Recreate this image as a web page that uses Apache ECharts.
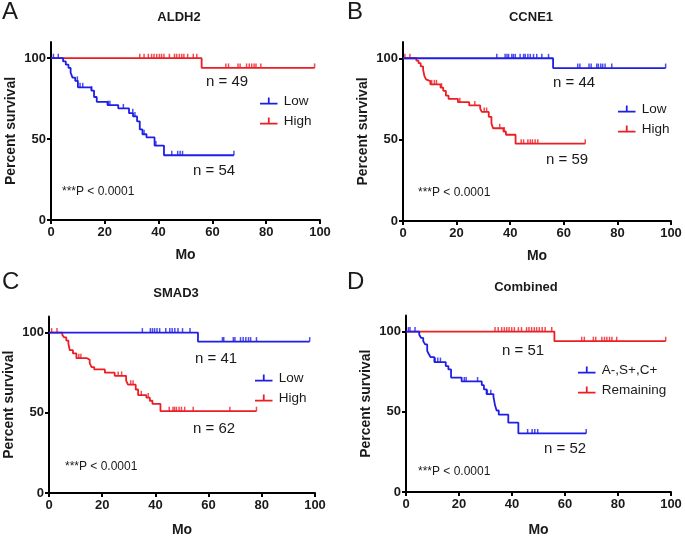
<!DOCTYPE html>
<html>
<head>
<meta charset="utf-8">
<script src="https://cdn.jsdelivr.net/npm/echarts@6/dist/echarts.min.js"></script>
<style>
html, body { margin: 0; padding: 0; background: #fff; }
#main { width: 685px; height: 538px; }
</style>
</head>
<body>
<div id="main"></div>
<script>
// axis ticks
var xTicks = [0, 20, 40, 60, 80, 100];
var yTicks = [0, 50, 100];

var panelLetters = ['A', 'B', 'C', 'D'];
var panelTitles = ['ALDH2', 'CCNE1', 'SMAD3', 'Combined'];
var blueNames = ['Low', 'Low', 'Low', 'A-,S+,C+'];
var redNames = ['High', 'High', 'High', 'Remaining'];
// n labels: upper (flat curve) and lower (falling curve)
var upperN = ['n = 49', 'n = 44', 'n = 41', 'n = 51'];
var lowerN = ['n = 54', 'n = 59', 'n = 62', 'n = 52'];
var pText = '***P < 0.0001';

// A - ALDH2
var aLowT = [0, 4.5, 5.5, 6.5, 7.3, 8, 9, 10, 15, 16, 17, 21, 25, 29, 30.5, 32, 33, 34, 35.5, 38.5, 42, 68];
var aLowS = [100, 98, 96, 94, 91, 88, 86, 82, 80, 76, 73, 71, 69, 66, 64, 61, 56, 53, 51, 46, 40, 40];
var aLowC = [0.9, 2.7, 9.8, 10.8, 11.8, 15.1, 21.3, 21.9, 26.9, 30.4, 31.2, 34.6, 39, 44.9, 47.1, 48, 48.9, 68];
var aHighT = [0, 56, 98];
var aHighS = [100, 94, 94];
var aHighC = [33, 34.6, 36.2, 37.4, 38.3, 39.3, 40.3, 41.1, 42, 44, 45.9, 46.7, 47.7, 48.6, 49.4, 50.8, 52.9, 54.2,
  65, 66, 69.5, 70.3, 72.7, 73.7, 74.6, 75.5, 76.2, 78, 98];

// B - CCNE1
var bLowT = [0, 56, 98];
var bLowS = [100, 94, 94];
var bLowC = [35, 38.1, 38.8, 39.4, 40.6, 41.2, 41.9, 43.7, 45, 45.6, 46.6, 47.5, 48.7, 49.9, 51.8, 54.3,
  65.2, 66, 69.4, 70.2, 72.3, 72.9, 73.8, 74.5, 75.4, 77.9, 98];
var bHighT = [0, 5, 5.8, 6.6, 7.5, 8, 8.6, 9.3, 10.2, 14, 15, 16, 17, 20.5, 24.7, 28.8, 29.4, 32, 33, 33.6, 37.5, 38.4, 42, 68];
var bHighS = [100, 98.5, 97, 95, 93, 89, 87, 86, 84, 82, 80, 77, 75, 73, 71, 69, 67, 64, 60, 57, 55, 53, 47.5, 47.5];
var bHighC = [0.7, 2.6, 10.7, 11.7, 12.5, 14.4, 21.2, 26.8, 30.3, 31.2, 36.1, 37.8, 44.1, 45, 46.6, 47.5, 48.3, 49.3, 50.3, 68];

// C - SMAD3
var cLowT = [0, 56, 98];
var cLowS = [100, 94.4, 94.4];
var cLowC = [35.1, 38.1, 38.9, 39.7, 40.6, 41.6, 43.9, 45.4, 46.3, 47.3, 48.5, 50.2, 53,
  65.2, 65.7, 69.3, 69.9, 72, 73, 74, 75, 75.8, 78, 98];
var cHighT = [0, 5, 5.7, 6.5, 7.3, 7.8, 9, 10.3, 14.3, 15.3, 16, 17, 21, 24.7, 29, 29.7, 32.6, 33.5, 36.6, 37.9, 38.9, 41.9, 78];
var cHighS = [100, 98.5, 97, 95, 93, 89, 87, 84, 83, 81, 78.5, 77, 75, 73, 70, 67.5, 64.5, 61, 59.5, 57.5, 55.5, 51, 51];
var cHighC = [1, 3, 11.2, 12, 26, 27.3, 30.7, 31.6, 34.7, 37.3, 45.2, 46.6, 47.2, 47.9, 48.9, 49.8, 51, 54.2, 68, 78];

// D - Combined
var dCombT = [0, 5, 5.7, 6.5, 7.2, 8, 8.6, 9.3, 10.7, 15, 16, 17, 21, 28.6, 29.4, 30.4, 33, 33.6, 34.2, 35, 38.6, 42.4, 68];
var dCombS = [100, 98, 96, 94, 92, 88, 86, 84, 81, 78.5, 76.4, 71.3, 68.9, 66.6, 64, 61, 59.4, 54, 50.8, 48.2, 43.2, 36.5, 36.5];
var dCombC = [0.9, 1.5, 3.4, 11, 12, 13, 22, 22.7, 27, 30.7, 32, 45.9, 47.6, 48.6, 49.7, 68];
var dRemT = [0, 56, 98];
var dRemS = [100, 94, 94];
var dRemC = [33.6, 34.8, 36.1, 37.1, 38, 38.9, 39.9, 40.9, 42.4, 43.6, 45.5, 46.4, 47.4, 48.4, 49.3, 50.3, 51.4, 52.5, 55,
  66.3, 67.3, 70.7, 71.6, 73.9, 74.9, 75.8, 76.8, 77.7, 79.5, 98];

var BLUE = '#1e1ee6';
var RED = '#ec1e24';
var INK = '#1a1a1a';
var FONT = 'Arial, "Liberation Sans", Helvetica, sans-serif';

var curves = [
  { red: [aHighT, aHighS, aHighC], blue: [aLowT, aLowS, aLowC] },
  { red: [bHighT, bHighS, bHighC], blue: [bLowT, bLowS, bLowC] },
  { red: [cHighT, cHighS, cHighC], blue: [cLowT, cLowS, cLowC] },
  { red: [dRemT, dRemS, dRemC], blue: [dCombT, dCombS, dCombC] }
];

// plot frames (px)
var frames = [
  { left: 51, top: 42, width: 269, height: 178 },
  { left: 403, top: 42, width: 268, height: 179 },
  { left: 49, top: 316.5, width: 266, height: 178 },
  { left: 406, top: 315.5, width: 265, height: 178.5 }
];

function stepAt(T, S, t) {
  var v = S[0];
  for (var i = 0; i < T.length; i++) {
    if (T[i] <= t) v = S[i];
  }
  return v;
}

function zip(T, S) {
  var out = [];
  for (var i = 0; i < T.length; i++) out.push([T[i], S[i]]);
  return out;
}

var grids = [], xAxes = [], yAxes = [], series = [], legends = [], texts = [];
var tickIcon = 'path://M0,6 L20,6 L20,8 L0,8 Z M9,0 L11,0 L11,8 L9,8 Z';

// legend / text positions
var legendPos = [[260, 94], [618, 102], [255, 371], [578, 363]];
var letterPos = [[2, 12], [347, 12], [2, 282], [347, 282]];
var titlePos = [[179, 17], [531, 17], [176, 293], [526, 287]];
var upperNPos = [[206, 82], [553, 83], [195, 359], [502, 351]];
var lowerNPos = [[193, 171], [546, 160], [193, 429], [544, 449]];
var pPos = [[62, 192], [418, 193], [65, 467], [418, 472]];
var moGap = [28, 28, 30, 31];

for (var i = 0; i < 4; i++) {
  var f = frames[i];
  grids.push({ left: f.left, top: f.top, width: f.width, height: f.height });
  xAxes.push({
    gridIndex: i, type: 'value', min: 0, max: 100, interval: 20,
    name: 'Mo', nameLocation: 'middle', nameGap: moGap[i],
    nameTextStyle: { fontFamily: FONT, fontWeight: 'bold', fontSize: 14, color: INK },
    axisLine: { onZero: false, lineStyle: { color: '#000', width: 2 } },
    axisTick: { length: 4, lineStyle: { color: '#000', width: 2 } },
    axisLabel: { fontFamily: FONT, fontWeight: 'bold', fontSize: 13, color: INK, margin: 6 },
    splitLine: { show: false }
  });
  yAxes.push({
    gridIndex: i, type: 'value', min: 0, max: 110,
    name: 'Percent survival', nameLocation: 'middle', nameGap: 33,
    nameTextStyle: { fontFamily: FONT, fontWeight: 'bold', fontSize: 14, color: INK },
    axisLine: { onZero: false, lineStyle: { color: '#000', width: 2 } },
    axisTick: { length: 4, customValues: yTicks, lineStyle: { color: '#000', width: 2 } },
    axisLabel: { customValues: yTicks, fontFamily: FONT, fontWeight: 'bold', fontSize: 13, color: INK, margin: 5 },
    splitLine: { show: false }
  });

  var groups = [
    { name: redNames[i], color: RED, d: curves[i].red },
    { name: blueNames[i], color: BLUE, d: curves[i].blue }
  ];
  groups.forEach(function (g) {
    var T = g.d[0], S = g.d[1], C = g.d[2];
    series.push({
      type: 'line', name: g.name, xAxisIndex: i, yAxisIndex: i,
      step: 'end', symbol: 'none', showSymbol: false, silent: true,
      data: zip(T, S),
      lineStyle: { color: g.color, width: 1.8 },
      itemStyle: { color: g.color }
    });
    series.push({
      type: 'scatter', name: g.name + ' censored ' + i, xAxisIndex: i, yAxisIndex: i, silent: true,
      symbol: 'rect', symbolSize: [1.5, 4.5], symbolOffset: [0, -2.2],
      data: C.map(function (t) { return [t, stepAt(T, S, t)]; }),
      itemStyle: { color: g.color }
    });
  });

  legends.push({
    data: [blueNames[i], redNames[i]], orient: 'vertical',
    left: legendPos[i][0], top: legendPos[i][1], padding: 0,
    icon: tickIcon, itemWidth: 20, itemHeight: 7, itemGap: 6,
    selectedMode: false,
    textStyle: { fontFamily: FONT, fontSize: 13.5, color: INK }
  });

  texts.push({ type: 'text', style: { x: letterPos[i][0], y: letterPos[i][1], text: panelLetters[i], font: '24px ' + FONT, fill: INK, verticalAlign: 'middle' } });
  texts.push({ type: 'text', style: { x: titlePos[i][0], y: titlePos[i][1], text: panelTitles[i], font: 'bold 13px ' + FONT, fill: INK, align: 'center', verticalAlign: 'middle' } });
  texts.push({ type: 'text', style: { x: upperNPos[i][0], y: upperNPos[i][1], text: upperN[i], font: '15px ' + FONT, fill: INK, verticalAlign: 'middle' } });
  texts.push({ type: 'text', style: { x: lowerNPos[i][0], y: lowerNPos[i][1], text: lowerN[i], font: '15px ' + FONT, fill: INK, verticalAlign: 'middle' } });
  texts.push({ type: 'text', style: { x: pPos[i][0], y: pPos[i][1], text: pText, font: '12px ' + FONT, fill: INK, verticalAlign: 'middle' } });
}

var chart = echarts.init(document.getElementById('main'));
chart.setOption({
  animation: false,
  backgroundColor: '#fff',
  grid: grids,
  xAxis: xAxes,
  yAxis: yAxes,
  legend: legends,
  series: series,
  graphic: texts
});
</script>
</body>
</html>
